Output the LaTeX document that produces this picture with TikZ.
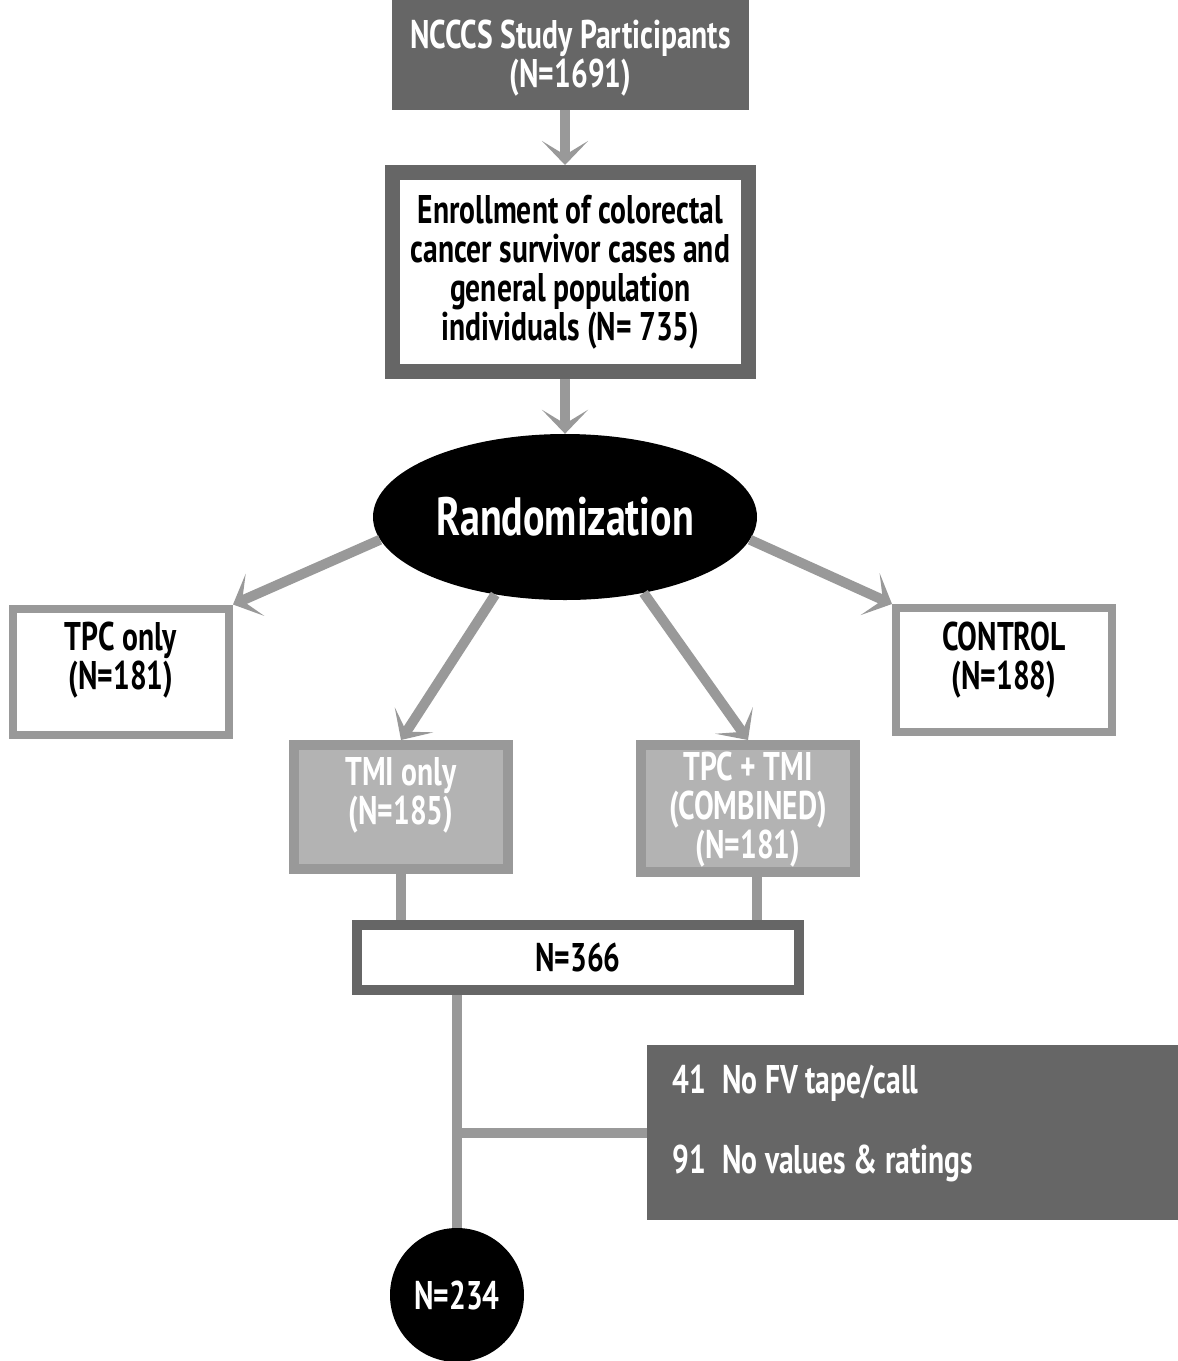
\documentclass[tikz,border=0pt]{standalone}
\usepackage{fontspec}
\setmainfont{PT Sans}[FakeStretch=0.74]
\usetikzlibrary{arrows.meta,positioning,shapes.geometric}
\definecolor{dark}{HTML}{666666}
\definecolor{mid}{HTML}{999999}
\definecolor{light}{HTML}{B3B3B3}
\newcommand{\flowfont}{\bfseries\fontsize{40}{39}\selectfont}
\tikzset{
  hdr/.style={fill=dark,minimum width=357pt,minimum height=110pt},
  framed/.style={draw=dark,line width=15pt,fill=white,align=center,font=\flowfont},
  randnode/.style={ellipse,fill=black,text=white,minimum width=384pt,minimum height=166pt,inner sep=0pt,font=\bfseries\fontsize{54}{60}\selectfont},
  armbox/.style={draw=mid,line width=8pt,fill=white,minimum width=216pt,minimum height=126pt},
  greybox/.style={draw=mid,line width=10pt,fill=light,minimum width=214pt,minimum height=125pt},
  txt/.style={align=center,font=\flowfont,text=#1},
  flow/.style={draw=mid,line width=10pt,-{Stealth[length=24pt,width=46pt,inset=14pt]}},
  link/.style={draw=mid,line width=10pt}
}
\begin{document}
\begin{tikzpicture}[x=1pt,y=-1pt]
  \useasboundingbox[fill=white] (0,0) rectangle (1178,1361);
  \node[hdr,label={[txt=white,yshift=-3pt]center:NCCCS Study Participants\\(N=1691)}] (ncccs) at (570.5,55) {};
  \node[framed,minimum width=356pt,minimum height=199pt] (enroll) at (570.5,272) {Enrollment of colorectal\\cancer survivor cases and\\general population\\individuals (N= 735)};
  \node[randnode] (rand) at (565,517) {Randomization};

  \node[armbox,label={[txt=black,yshift=11pt]center:TPC only\\(N=181)}] (tpc) at (121,671.5) {};
  \node[armbox,minimum height=124pt,label={[txt=black,yshift=10pt]center:CONTROL\\(N=188)}] (control) at (1004,670) {};
  \node[greybox,minimum height=124pt,label={[txt=white,yshift=12pt]center:TMI only\\(N=185)}] (tmi) at (401,807) {};
  \node[greybox,minimum height=127pt,label={[txt=white,yshift=-1pt]center:TPC + TMI\\(COMBINED)\\(N=181)}] (comb) at (748,808.5) {};

  \node[framed,line width=10pt,minimum width=442pt,minimum height=65pt] (pooled) at (578,957.5) {N=366};
  \node[fill=dark,minimum width=531pt,minimum height=175pt,
        label={[txt=white,align=left,anchor=west,xshift=22pt,yshift=9pt]west:\makebox[50pt][l]{41}No FV tape/call\\[41pt]\makebox[50pt][l]{91}No values \& ratings}] (excl) at (912.5,1132.5) {};
  \node[ellipse,fill=black,text=white,minimum width=134pt,minimum height=134pt,inner sep=0pt,font=\flowfont] (final) at (457,1295) {N=234};

  \draw[flow] (ncccs.south -| rand.north) -- (enroll.north -| rand.north);
  \draw[flow] (enroll.south -| rand.north) -- (rand.north);
  \draw[flow] (rand.187) -- (tpc.north east);
  \draw[flow] (rand.353) -- (control.north west);
  \draw[flow] (rand.228) -- (tmi.north);
  \draw[flow] (rand.316) -- (comb.north);

  \draw[link] (tmi.south) -- (tmi.south |- pooled.north);
  \draw[link] ([xshift=9pt]comb.south) -- ([xshift=9pt]comb.south |- pooled.north);
  \draw[link] (pooled.south -| final.north) -- (final.north);
  \draw[link] (excl.west) -- (excl.west -| final.north);
\end{tikzpicture}
\end{document}
